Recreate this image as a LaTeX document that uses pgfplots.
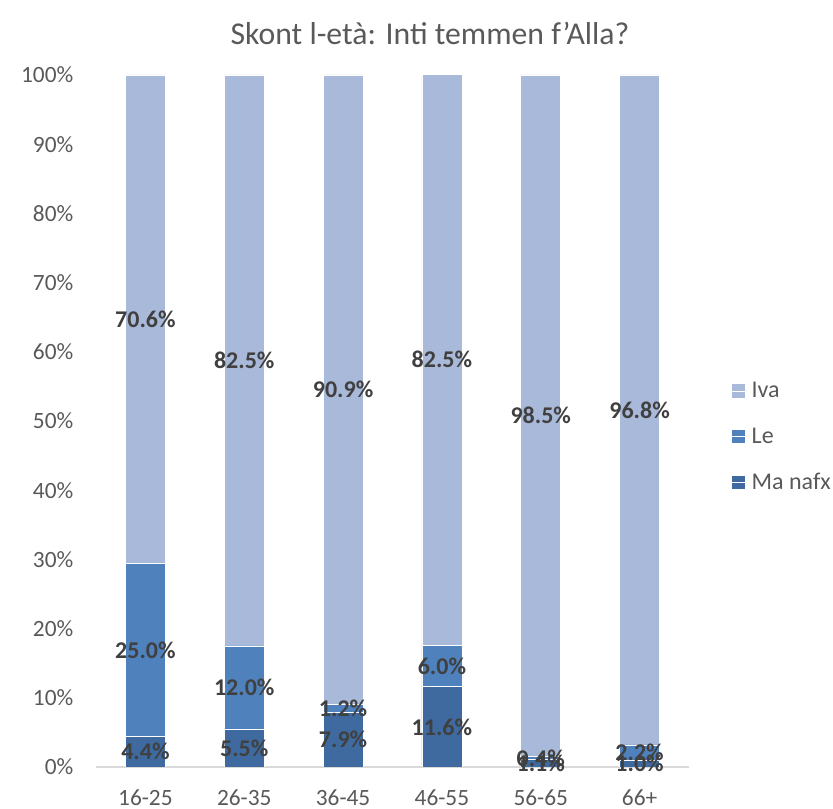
\documentclass[border=0pt]{standalone}
\usepackage{fontspec}
\setmainfont{Carlito}
\usepackage{pgfplots}
\pgfplotsset{compat=1.18}

\definecolor{cIva}{HTML}{A9B9D9}
\definecolor{cLe}{HTML}{4F81BD}
\definecolor{cMa}{HTML}{3E6A9F}
\definecolor{tickgray}{HTML}{595959}
\definecolor{labgray}{HTML}{404040}
\definecolor{axgray}{HTML}{D9D9D9}

\pgfplotsset{
  base/.style={
    scale only axis, width=444.75pt, height=519pt,
    xmin=-0.5, xmax=5.5, ymin=0, ymax=100,
  },
}

\begin{document}
\begin{tikzpicture}[x=0.75pt,y=0.75pt]

% bars
\begin{axis}[base,
  ybar stacked, bar width=30pt,
  every axis plot post/.append style={
    legend image code/.code={\fill[#1, draw=none] (0pt,-4.9pt) rectangle (9.75pt,4.9pt);
      \path (0pt,0pt) -- (12.5pt,0pt);}},
  axis x line*=bottom,
  axis y line*=left,
  x axis line style={draw=axgray, line width=1.1pt, -},
  y axis line style={draw=none},
  major tick length=0pt,
  xtick={0,...,5},
  xticklabels={16-25,26-35,36-45,46-55,56-65,66+},
  ytick={0,10,...,100},
  yticklabel={\pgfmathprintnumber{\tick}\%},
  /pgf/number format/assume math mode=true,
  tick label style={font=\fontsize{17.5}{17.5}\selectfont, text=tickgray},
  xticklabel style={yshift=-13.5pt},
  yticklabel style={xshift=-13.5pt},
  legend style={draw=none, fill=none, at={(1.065,0.477)}, anchor=west,
    font=\fontsize{18}{18}\selectfont, text=tickgray, row sep=17pt},
  legend cell align=left,
  reverse legend,
]
\addplot[fill=cMa, draw=white, line width=0.4pt] coordinates {(0,4.4) (1,5.5) (2,7.9) (3,11.6) (4,1.1) (5,1.0)};
\addplot[fill=cLe, draw=white, line width=0.4pt] coordinates {(0,25.0) (1,12.0) (2,1.2) (3,6.0) (4,0.4) (5,2.2)};
\addplot[fill=cIva, draw=white, line width=0.4pt] coordinates {(0,70.6) (1,82.5) (2,90.9) (3,82.5) (4,98.5) (5,96.8)};
\legend{Ma nafx, Le, Iva}
\end{axis}

% data labels at the middle of each segment
\begin{axis}[base, hide axis, clip=false,
  nodes near coords, point meta=explicit symbolic,
  every node near coord/.style={anchor=center, inner sep=0pt,
    font=\bfseries\fontsize{18}{18}\selectfont, text=labgray},
]
\addplot[draw=none] coordinates {(0,2.2)[4.4\%] (1,2.75)[5.5\%] (2,3.95)[7.9\%] (3,5.8)[11.6\%] (4,0.55)[1.1\%] (5,0.5)[1.0\%]};
\addplot[draw=none] coordinates {(0,16.9)[25.0\%] (1,11.5)[12.0\%] (2,8.5)[1.2\%] (3,14.6)[6.0\%] (4,1.3)[0.4\%] (5,2.1)[2.2\%]};
\addplot[draw=none] coordinates {(0,64.7)[70.6\%] (1,58.75)[82.5\%] (2,54.55)[90.9\%] (3,58.85)[82.5\%] (4,50.75)[98.5\%] (5,51.6)[96.8\%]};
\end{axis}

\node[font=\fontsize{23.8}{23.8}\selectfont, text=tickgray] at (334,734) {Skont l-età: Inti temmen f’Alla?};

\pgfresetboundingbox
\path[use as bounding box] (-96,-42) rectangle (737,767);
\end{tikzpicture}
\end{document}
